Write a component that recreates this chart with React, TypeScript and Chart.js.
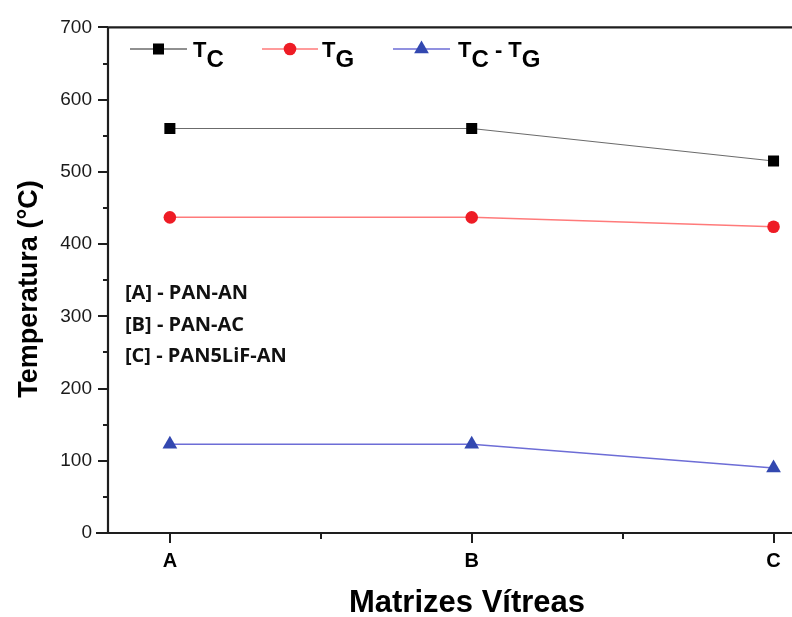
import React, { useEffect, useRef } from 'react';
import { Chart, registerables } from 'chart.js';

Chart.register(...registerables);

const categories = ['A', 'B', 'C'];
const tcValues = [560, 560, 515];
const tgValues = [437, 437, 424];
const diffValues = [123, 123, 90];
const yTickValues = [0, 100, 200, 300, 400, 500, 600, 700];
const notes = ['[A] - PAN-AN', '[B] - PAN-AC', '[C] - PAN5LiF-AN'];
const xTitle = 'Matrizes Vítreas';
const yTitle = 'Temperatura (°C)';

const AXIS = '#1e1e1e';
const SANS = '"Liberation Sans", Arial, sans-serif';

function drawMarker(ctx: CanvasRenderingContext2D, style: string, x: number, y: number, r: number, color: string) {
  ctx.save();
  ctx.fillStyle = color;
  ctx.beginPath();
  if (style === 'rect') {
    const s = Math.SQRT1_2 * r;
    ctx.rect(x - s, y - s, 2 * s, 2 * s);
  } else if (style === 'circle') {
    ctx.arc(x, y, r, 0, Math.PI * 2);
  } else {
    const w = r * Math.sqrt(3) / 2;
    ctx.moveTo(x, y - r);
    ctx.lineTo(x + w, y + r / 2);
    ctx.lineTo(x - w, y + r / 2);
    ctx.closePath();
  }
  ctx.fill();
  ctx.restore();
}

const framePlugin = {
  id: 'frame',
  beforeDatasetsDraw(chart: any) {
    const { ctx, chartArea: a, scales } = chart;
    const xs = scales.x;
    const ys = scales.y;
    const right = chart.width;
    ctx.save();
    ctx.strokeStyle = AXIS;
    ctx.lineWidth = 2.2;
    ctx.beginPath();
    ctx.moveTo(a.left, a.top);
    ctx.lineTo(right, a.top);
    ctx.moveTo(a.left, a.top);
    ctx.lineTo(a.left, a.bottom);
    ctx.moveTo(a.left - 12, a.bottom);
    ctx.lineTo(right, a.bottom);
    ctx.stroke();
    ctx.lineWidth = 2;
    ctx.beginPath();
    for (let v = 0; v <= 700; v += 50) {
      const y = Math.round(ys.getPixelForValue(v));
      const len = v % 100 === 0 ? 10 : 5;
      ctx.moveTo(a.left - len, y);
      ctx.lineTo(a.left, y);
    }
    for (let v = 0; v <= 2; v += 0.5) {
      const x = Math.round(xs.getPixelForValue(v));
      const len = Number.isInteger(v) ? 10 : 6;
      ctx.moveTo(x, a.bottom);
      ctx.lineTo(x, a.bottom + len);
    }
    ctx.stroke();
    ctx.restore();
  },
  afterDraw(chart: any) {
    const { ctx } = chart;
    ctx.save();
    const ly = 49;
    const items = [
      { x0: 130, x1: 187, line: '#6b6b6b', mark: '#000000', style: 'rect', r: 7.8, tx: 193, parts: [['T', 0], ['C', 1]] },
      { x0: 262, x1: 318, line: '#ff7a7a', mark: '#ee1c25', style: 'circle', r: 6.3, tx: 322, parts: [['T', 0], ['G', 1]] },
      { x0: 393, x1: 450, line: '#6d6dd6', mark: '#3348b0', style: 'triangle', r: 8.5, tx: 458, parts: [['T', 0], ['C', 1], [' - ', 0], ['T', 0], ['G', 1]] },
    ];
    for (const it of items) {
      ctx.strokeStyle = it.line;
      ctx.lineWidth = 1.5;
      ctx.beginPath();
      ctx.moveTo(it.x0, ly);
      ctx.lineTo(it.x1, ly);
      ctx.stroke();
      drawMarker(ctx, it.style, (it.x0 + it.x1) / 2, ly, it.r, it.mark);
      ctx.fillStyle = '#000';
      ctx.textBaseline = 'alphabetic';
      ctx.textAlign = 'left';
      let x = it.tx;
      for (const [t, sub] of it.parts as [string, number][]) {
        ctx.font = sub ? `bold 24px ${SANS}` : `bold 22px ${SANS}`;
        ctx.fillText(t, x, sub ? 67 : 57);
        x += ctx.measureText(t).width;
      }
    }
    ctx.font = `bold 20px "Open Sans", sans-serif`;
    ctx.fillStyle = '#111';
    ctx.textBaseline = 'middle';
    const ny = [293, 325, 356];
    notes.forEach((n, i) => ctx.fillText(n, 125, ny[i]));
    ctx.fillStyle = '#000';
    ctx.textAlign = 'center';
    ctx.textBaseline = 'middle';
    ctx.font = `bold 31px ${SANS}`;
    ctx.fillText(xTitle, 467, 603);
    ctx.translate(30, 289);
    ctx.rotate(-Math.PI / 2);
    ctx.font = `bold 27px ${SANS}`;
    ctx.fillText(yTitle, 0, 0);
    ctx.restore();
  },
};

export default function App() {
  const ref = useRef<HTMLCanvasElement | null>(null);
  useEffect(() => {
    if (!ref.current) return;
    const toPts = (vals: number[]) => vals.map((v, i) => ({ x: i, y: v }));
    const chart = new Chart(ref.current, {
      type: 'line',
      data: {
        datasets: [
          {
            label: 'TC',
            data: toPts(tcValues),
            borderColor: '#6b6b6b',
            borderWidth: 1.2,
            pointStyle: 'rect',
            pointRadius: 7.8,
            pointBackgroundColor: '#000',
            pointBorderWidth: 0,
          },
          {
            label: 'TG',
            data: toPts(tgValues),
            borderColor: '#ff7a7a',
            borderWidth: 1.5,
            pointStyle: 'circle',
            pointRadius: 6.3,
            pointBackgroundColor: '#ee1c25',
            pointBorderWidth: 0,
          },
          {
            label: 'TC - TG',
            data: toPts(diffValues),
            borderColor: '#6d6dd6',
            borderWidth: 1.5,
            pointStyle: 'triangle',
            pointRadius: 8.5,
            pointBackgroundColor: '#3348b0',
            pointBorderWidth: 0,
          },
        ],
      },
      options: {
        animation: false,
        responsive: false,
        devicePixelRatio: 1,
        layout: { padding: { top: 25, left: 0, right: 0, bottom: 0 } },
        plugins: { legend: { display: false }, tooltip: { enabled: false } },
        scales: {
          x: {
            type: 'linear',
            min: -0.205,
            max: 2.033,
            grid: { display: false, drawTicks: false },
            border: { display: false },
            afterFit: (s: any) => { s.height = 84; s.paddingRight = 0; s.paddingLeft = 0; },
            afterBuildTicks: (s: any) => { s.ticks = categories.map((_, i) => ({ value: i })); },
            ticks: {
              padding: 16,
              color: '#000',
              font: { family: SANS, size: 20, weight: 'bold' },
              callback: (v: any) => categories[Number(v)] ?? '',
              maxRotation: 0,
            },
          },
          y: {
            type: 'linear',
            min: 0,
            max: 700,
            grid: { display: false, drawTicks: false },
            border: { display: false },
            afterFit: (s: any) => { s.width = 108; },
            afterBuildTicks: (s: any) => { s.ticks = yTickValues.map((v) => ({ value: v })); },
            ticks: {
              padding: 16,
              color: '#1a1a1a',
              font: { family: SANS, size: 19 },
            },
          },
        },
      },
      plugins: [framePlugin],
    } as any);
    return () => chart.destroy();
  }, []);
  return (
    <div style={{ position: 'absolute', left: 0, top: 0, width: 792, height: 617, background: '#fff' }}>
      <canvas ref={ref} width={792} height={617} />
    </div>
  );
}
